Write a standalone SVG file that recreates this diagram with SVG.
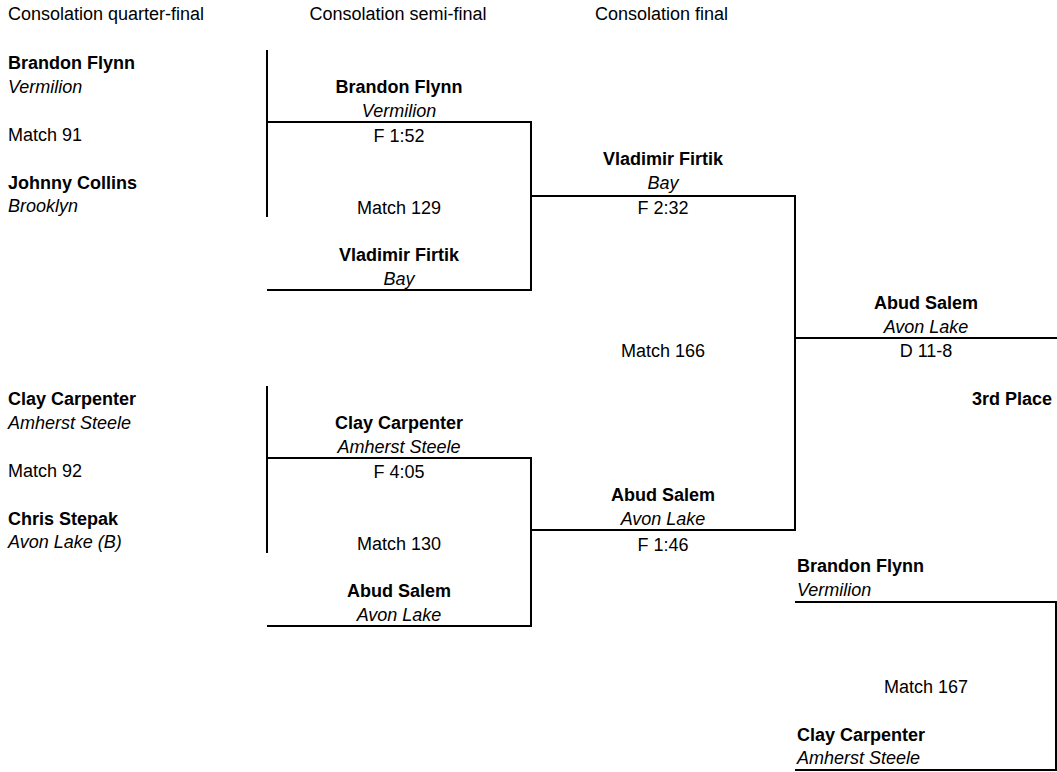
<svg xmlns="http://www.w3.org/2000/svg" width="1057" height="772" viewBox="0 0 1057 772">
<style>
text{font-family:"Liberation Sans",Arial,sans-serif;font-size:18px;fill:#000}
.b{font-weight:bold}
.i{font-style:italic}
.c{text-anchor:middle}
.r{text-anchor:end}
.ln{stroke:#000;stroke-width:2;fill:none}
</style>
<rect width="1057" height="772" fill="#fff"/>
<g id="headers">
<text x="8" y="20">Consolation quarter-final</text>
<text x="398" y="20" class="c">Consolation semi-final</text>
<text x="661.5" y="20" class="c">Consolation final</text>
</g>
<g id="connectors">
<path class="ln" d="M267,50V217"/>
<path class="ln" d="M267,122H531V290H267"/>
<path class="ln" d="M531,196H795V530H531"/>
<path class="ln" d="M795,338H1057"/>
<path class="ln" d="M267,386V553"/>
<path class="ln" d="M267,458H531V626H267"/>
<path class="ln" d="M795,602H1056V770H795"/>
</g>
<g id="match91">
<text x="8" y="69" class="b">Brandon Flynn</text>
<text x="8" y="93" class="i">Vermilion</text>
<text x="8" y="141">Match 91</text>
<text x="8" y="189" class="b">Johnny Collins</text>
<text x="8" y="212" class="i">Brooklyn</text>
</g>
<g id="match92">
<text x="8" y="405" class="b">Clay Carpenter</text>
<text x="8" y="429" class="i">Amherst Steele</text>
<text x="8" y="477">Match 92</text>
<text x="8" y="525" class="b">Chris Stepak</text>
<text x="8" y="548" class="i">Avon Lake (B)</text>
</g>
<g id="match129">
<text x="399" y="93" class="b c">Brandon Flynn</text>
<text x="399" y="117" class="i c">Vermilion</text>
<text x="399" y="142" class="c">F 1:52</text>
<text x="399" y="214" class="c">Match 129</text>
<text x="399" y="261" class="b c">Vladimir Firtik</text>
<text x="399" y="285" class="i c">Bay</text>
</g>
<g id="match130">
<text x="399" y="429" class="b c">Clay Carpenter</text>
<text x="399" y="453" class="i c">Amherst Steele</text>
<text x="399" y="478" class="c">F 4:05</text>
<text x="399" y="550" class="c">Match 130</text>
<text x="399" y="597" class="b c">Abud Salem</text>
<text x="399" y="621" class="i c">Avon Lake</text>
</g>
<g id="match166">
<text x="663" y="165" class="b c">Vladimir Firtik</text>
<text x="663" y="189" class="i c">Bay</text>
<text x="663" y="214" class="c">F 2:32</text>
<text x="663" y="357" class="c">Match 166</text>
<text x="663" y="501" class="b c">Abud Salem</text>
<text x="663" y="525" class="i c">Avon Lake</text>
<text x="663" y="551" class="c">F 1:46</text>
</g>
<g id="third">
<text x="926" y="309" class="b c">Abud Salem</text>
<text x="926" y="333" class="i c">Avon Lake</text>
<text x="926" y="357" class="c">D 11-8</text>
<text x="1052" y="405" class="b r">3rd Place</text>
</g>
<g id="match167">
<text x="797" y="572" class="b">Brandon Flynn</text>
<text x="797" y="596" class="i">Vermilion</text>
<text x="926" y="693" class="c">Match 167</text>
<text x="797" y="741" class="b">Clay Carpenter</text>
<text x="797" y="764" class="i">Amherst Steele</text>
</g>
</svg>
